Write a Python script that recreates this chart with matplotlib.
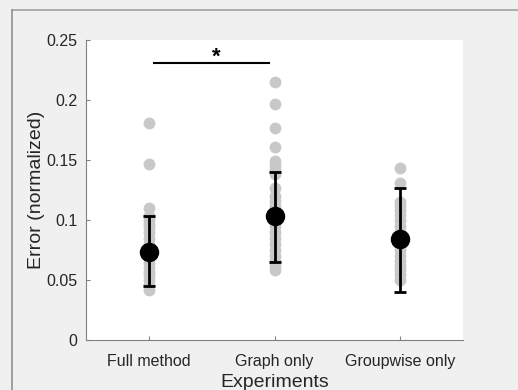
import numpy as np
import matplotlib
matplotlib.use("Agg")
from matplotlib import pyplot as plt
from matplotlib.lines import Line2D

plt.rcParams['font.family'] = ['Liberation Sans', 'DejaVu Sans']

categories = ["Full method", "Graph only", "Groupwise only"]
full_pts = [0.181, 0.147, 0.110, 0.103, 0.100, 0.097, 0.094, 0.090, 0.085, 0.080,
            0.076, 0.072, 0.068, 0.064, 0.060, 0.057, 0.054, 0.050, 0.046, 0.042]
graph_pts = [0.215, 0.197, 0.177, 0.161, 0.149, 0.146, 0.142, 0.138, 0.127, 0.120,
             0.116, 0.112, 0.108, 0.100, 0.095, 0.090, 0.085, 0.080, 0.075, 0.070,
             0.066, 0.062, 0.058]
group_pts = [0.143, 0.131, 0.115, 0.112, 0.108, 0.104, 0.100, 0.095, 0.090, 0.085,
             0.080, 0.075, 0.070, 0.066, 0.062, 0.058, 0.054, 0.050]
means = [0.073, 0.103, 0.084]
err_low = [0.045, 0.065, 0.040]
err_high = [0.103, 0.140, 0.127]
sig_y = 0.2305

W, H = 518, 390
fig = plt.figure(figsize=(W / 100, H / 100), dpi=100, facecolor='#f0f0f0')
ax = fig.add_axes([86 / W, 1 - 340 / H, 377 / W, 300 / H])

# frame of the screenshot
fig.add_artist(Line2D([12 / W, 1], [1 - 10 / H, 1 - 10 / H], color='#a0a0a0', lw=1.2))
fig.add_artist(Line2D([12 / W, 12 / W], [0, 1 - 10 / H], color='#909090', lw=1.2))

xs = np.arange(1, 4)
for x, pts in zip(xs, [full_pts, graph_pts, group_pts]):
    ax.plot([x] * len(pts), pts, 'o', color='#c8c8c8', ms=8.5, mew=0, zorder=1)

means = np.array(means)
yerr = [means - np.array(err_low), np.array(err_high) - means]
ax.errorbar(xs, means, yerr=yerr, fmt='o', color='black', ms=13,
            elinewidth=2, capsize=4, capthick=2, zorder=3)

ax.plot([1.04, 1.96], [sig_y, sig_y], color='black', lw=1.5)
ax.text(1.54, sig_y - 0.0035, '*', ha='center', va='bottom', fontsize=16, fontweight='bold')

ax.set_xlim(0.5, 3.5)
ax.set_ylim(0, 0.25)
ax.set_xticks(xs)
ax.set_xticklabels(categories)
ax.set_yticks([0, 0.05, 0.1, 0.15, 0.2, 0.25])
ax.set_yticklabels(['0', '0.05', '0.1', '0.15', '0.2', '0.25'])
ax.tick_params(direction='in', length=3, color='#808080', labelsize=11.5, labelcolor='#262626', pad=6)
ax.tick_params(axis='x', pad=10)
for s in ['top', 'right']:
    ax.spines[s].set_visible(False)
for s in ['left', 'bottom']:
    ax.spines[s].set_color('#808080')
ax.set_ylabel('Error (normalized)', fontsize=14, color='#262626', labelpad=1)
ax.set_xlabel('Experiments', fontsize=14, color='#262626', labelpad=4)

fig.savefig('out.png', dpi=100, facecolor=fig.get_facecolor())
